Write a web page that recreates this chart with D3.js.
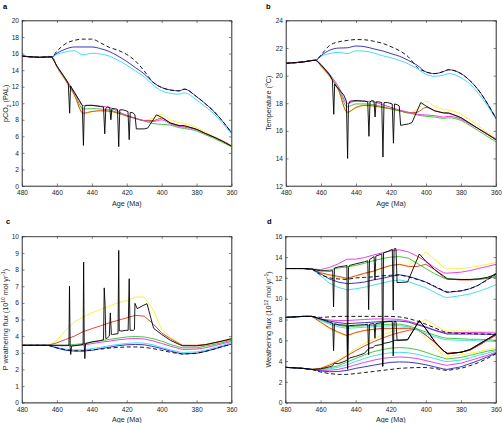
<!DOCTYPE html>
<html><head><meta charset="utf-8">
<script src="https://cdn.jsdelivr.net/npm/d3@7"></script>
<style>body{margin:0;background:#fff} svg{display:block} text{font-family:"Liberation Sans",Arial,sans-serif}</style>
</head><body><svg id="chart" width="502" height="423"></svg>
<script>
// ---------- DATA ----------
const xTicks = [480,460,440,420,400,380,360];
const yTicksA = [0,2,4,6,8,10,12,14,16,18,20];
const yTicksB = [12,14,16,18,20,22,24];
const yTicksC = [0,1,2,3,4,5,6,7,8,9,10];
const yTicksD = [0,2,4,6,8,10,12,14,16];

// panels a & b (ages in Ma)
const agesAB = [480,470,465,463,460,455,450,445,440,435,430,425,420,415,410,405,400,395,390,387,380,375,370,365,360];
const pco2Dashed  = [15.7,15.55,15.6,15.6,16.3,17.2,17.6,17.75,17.75,17.3,16.75,16.4,15.9,15.1,13.9,12.55,11.9,11.6,11.5,11.7,10.8,9.95,9.0,7.8,6.45];
const pco2Blue    = [15.7,15.55,15.6,15.6,16.05,16.55,16.8,16.8,16.8,16.6,16.25,15.7,15.05,14.3,13.55,12.55,11.9,11.6,11.5,11.7,10.8,9.95,9.0,7.8,6.45];
const pco2Cyan    = [15.7,15.55,15.6,15.6,15.9,16.2,16.35,15.85,16.05,15.95,15.7,15.2,14.6,13.9,13.2,12.2,11.5,11.2,11.1,11.25,10.4,9.6,8.7,7.55,6.3];
const pco2Magenta = [15.7,15.55,15.6,15.6,14.5,12.95,11.4,9.7,9.75,9.65,9.5,9.0,8.55,8.2,7.9,7.8,8.0,7.5,7.2,7.1,6.8,6.35,5.9,5.4,4.85];
const pco2Green   = [15.7,15.55,15.6,15.6,14.45,12.85,11.2,9.3,9.35,9.3,9.2,8.85,8.5,8.15,7.85,7.55,7.45,7.35,7.05,6.95,6.65,6.2,5.75,5.25,4.75];
const pco2Red     = [15.7,15.55,15.6,15.6,14.4,12.75,11.0,8.8,9.0,9.1,9.05,8.8,8.45,8.15,7.9,7.9,8.2,7.65,7.3,7.2,6.85,6.35,5.9,5.4,4.85];
const pco2Yellow  = [15.7,15.55,15.6,15.6,14.35,12.7,10.9,8.7,8.95,9.05,9.0,8.8,8.45,8.15,7.95,8.2,8.65,8.0,7.65,7.55,7.05,6.5,6.0,5.5,4.9];

const tempDashed  = [20.9,21.0,21.1,21.12,21.5,22.2,22.45,22.55,22.62,22.6,22.5,22.35,22.1,21.8,21.35,20.6,20.27,20.15,20.3,20.43,20.15,19.65,18.95,18.0,16.9];
const tempBlue    = [20.9,21.0,21.1,21.12,21.45,21.85,22.0,22.02,22.15,22.1,21.95,21.8,21.6,21.4,21.1,20.75,20.27,20.15,20.3,20.43,20.15,19.65,18.95,18.0,16.9];
const tempCyan    = [20.9,21.0,21.1,21.12,21.4,21.6,21.7,21.6,21.8,21.78,21.65,21.45,21.3,21.1,20.85,20.5,20.1,19.95,20.05,20.15,19.85,19.4,18.7,17.85,16.85];
const tempMagenta = [20.9,21.0,21.1,21.12,20.8,20.1,19.2,18.0,18.15,18.15,18.1,17.9,17.7,17.5,17.35,17.2,17.15,17.1,17.0,17.05,16.85,16.5,16.15,15.8,15.35];
const tempGreen   = [20.9,21.0,21.1,21.12,20.75,20.0,19.05,17.75,17.95,17.95,17.9,17.75,17.6,17.45,17.3,17.15,17.05,17.0,16.9,16.95,16.75,16.4,16.0,15.6,15.2];
const tempRed     = [20.9,21.0,21.1,21.12,20.7,19.95,18.95,17.35,17.7,17.85,17.8,17.7,17.6,17.45,17.3,17.35,17.7,17.45,17.3,17.25,16.95,16.55,16.15,15.75,15.4];
const tempYellow  = [20.9,21.0,21.1,21.12,20.65,19.9,18.9,17.3,17.65,17.8,17.8,17.7,17.55,17.45,17.3,17.55,18.15,17.75,17.55,17.5,17.2,16.8,16.35,15.9,15.45];

const blackAgesAB = [480,470,465,463,460,455,453.5,452.7,452.2,451.5,450,447,445.5,444.8,444.3,443.5,440,435,433.3,432.6,432,431,429.7,429.1,428.5,427,425.3,424.6,424,422,419.3,418.6,418,416.5,415.3,414.5,410,408,403,400,395,390,387,380,375,370,365,360];
const pco2Black = [15.7,15.55,15.6,15.6,14.5,12.95,12.4,8.8,12.1,11.8,11.3,10.3,9.75,4.9,9.5,9.75,9.75,9.6,9.55,6.3,9.4,9.55,9.45,8.0,9.35,9.35,9.25,4.75,9.2,9.2,9.0,5.6,8.9,8.85,8.6,6.9,6.9,7.0,8.6,8.3,7.6,7.3,7.3,6.85,6.35,5.9,5.4,4.8];
const tempBlack = [20.9,21.0,21.1,21.12,20.8,20.05,19.7,17.2,19.4,19.25,19.05,18.6,18.15,14.0,17.9,18.15,18.2,18.15,18.1,15.6,18.1,18.2,18.15,17.0,18.1,18.1,18.05,14.1,18.05,18.05,17.95,15.1,17.95,17.9,17.8,16.4,16.5,16.6,18.05,17.8,17.45,17.3,17.3,16.95,16.55,16.15,15.75,15.35];

// panel c
const agesC = [480,465,460,455,450,445,440,435,430,425,420,415,410,405,400,395,390,388,380,375,370,365,360];
const pwYellow  = [3.45,3.45,3.75,4.35,4.85,5.15,5.4,5.6,5.8,6.0,6.15,6.35,6.35,5.6,4.4,3.95,3.6,3.45,3.4,3.45,3.55,3.7,3.85];
const pwRed     = [3.45,3.45,3.6,3.8,4.0,4.27,4.45,4.62,4.8,4.95,5.1,5.25,5.2,4.75,4.2,3.85,3.55,3.45,3.45,3.5,3.6,3.7,3.8];
const pwGreen   = [3.45,3.45,3.45,3.45,3.5,3.55,3.65,3.72,3.8,3.88,3.95,3.98,3.95,3.85,3.7,3.5,3.35,3.3,3.3,3.4,3.5,3.62,3.75];
const pwMagenta = [3.45,3.45,3.43,3.42,3.44,3.47,3.55,3.63,3.7,3.78,3.83,3.86,3.83,3.72,3.56,3.4,3.25,3.2,3.22,3.3,3.42,3.55,3.68];
const pwCyan    = [3.45,3.45,3.32,3.22,3.18,3.17,3.25,3.33,3.42,3.5,3.56,3.6,3.58,3.48,3.32,3.17,3.05,3.02,3.05,3.15,3.3,3.45,3.6];
const pwBlue    = [3.45,3.45,3.28,3.15,3.1,3.1,3.15,3.25,3.33,3.42,3.48,3.5,3.48,3.38,3.25,3.1,2.97,2.93,2.97,3.08,3.22,3.38,3.52];
const pwDashed  = [3.45,3.45,3.3,3.18,3.12,3.12,3.17,3.22,3.28,3.32,3.35,3.35,3.33,3.25,3.15,3.03,2.95,2.92,2.97,3.08,3.22,3.38,3.52];
const blackAgesC = [480,465,455,453.1,452.8,452.4,452.1,451.6,448,445,444.7,444.35,444.0,443.6,440,436,433.3,432.9,432.4,432.0,431.0,430.0,429.4,428.8,428.2,425,424.6,424.3,423.9,423.5,420.5,419.2,418.6,418.1,416.2,415.6,415.3,414.0,410.5,408.4,404.6,400,395,390,388,380,375,370,365,360];
const pwBlack = [3.45,3.45,3.45,3.45,7.0,3.3,2.9,3.4,3.45,3.5,8.45,3.5,2.65,3.55,3.65,3.72,3.78,6.9,5.85,3.85,3.9,4.0,5.4,4.1,4.1,4.15,9.15,4.3,4.35,4.3,4.35,4.35,7.45,4.35,4.35,4.4,5.97,5.65,5.85,5.95,4.47,4.1,3.75,3.5,3.42,3.42,3.48,3.6,3.72,3.85];

// panel d
const agesD = [480,470,465,460,455,450,445,440,435,430,425,420,415,410,405,400,395,390,388,380,375,370,365,360];
const wfTopDashed  = [12.9,12.9,12.85,12.3,12.0,11.9,11.85,12.0,12.05,12.1,12.2,12.25,12.3,12.1,11.85,11.6,11.2,10.8,10.65,10.75,10.95,11.3,11.8,12.35];
const wfTopBlue    = [12.9,12.9,12.85,12.4,11.9,11.6,11.45,11.5,11.6,11.8,11.95,12.15,12.3,12.15,11.9,11.6,11.15,10.75,10.6,10.75,10.95,11.3,11.85,12.45];
const wfTopCyan    = [12.9,12.9,12.85,12.2,11.5,11.1,10.85,10.95,11.1,11.3,11.5,11.7,11.8,11.65,11.35,11.05,10.6,10.2,10.1,10.3,10.45,10.7,11.0,11.35];
const wfTopMagenta = [12.9,12.9,12.85,12.8,13.0,13.35,13.8,13.8,13.95,14.2,14.4,14.6,14.7,14.5,14.1,13.6,13.0,12.5,12.45,12.55,12.7,12.9,13.1,13.3];
const wfTopGreen   = [12.9,12.9,12.85,12.65,12.75,12.95,13.05,13.2,13.4,13.65,13.85,14.0,14.05,13.9,13.4,12.9,12.4,12.0,11.9,11.85,11.85,11.9,12.0,12.15];
const wfTopRed     = [12.9,12.9,12.85,12.5,12.3,12.15,11.95,12.2,12.45,12.65,12.95,13.2,13.3,13.1,13.1,13.3,12.8,12.1,11.9,11.8,11.8,11.85,11.95,12.1];
const wfTopYellow  = [12.9,12.9,12.85,12.45,12.2,12.05,11.9,12.15,12.4,12.6,12.9,13.15,13.3,13.2,13.7,14.5,13.8,13.05,12.85,12.9,13.0,13.15,13.3,13.5];
const wfMidDashed  = [8.2,8.3,8.3,8.2,8.25,8.3,8.3,8.3,8.3,8.3,8.3,8.3,8.25,8.1,7.85,7.55,7.2,6.85,6.75,6.65,6.65,6.6,6.6,6.6];
const wfMidMagenta = [8.2,8.3,8.3,8.05,7.95,7.9,7.9,7.95,8.0,8.05,8.05,8.05,8.0,7.85,7.6,7.3,7.0,6.75,6.7,6.75,6.75,6.75,6.72,6.7];
const wfMidBlue    = [8.2,8.3,8.3,8.05,7.85,7.7,7.6,7.65,7.7,7.75,7.8,7.85,7.85,7.75,7.5,7.25,6.95,6.7,6.6,6.6,6.6,6.6,6.58,6.55];
const wfMidGreen   = [8.2,8.3,8.3,7.95,7.65,7.45,7.3,7.35,7.4,7.45,7.5,7.55,7.55,7.4,7.1,6.8,6.5,6.25,6.2,6.15,6.1,6.1,6.05,6.0];
const wfMidCyan    = [8.2,8.3,8.3,7.9,7.55,7.3,7.15,7.2,7.25,7.3,7.35,7.4,7.4,7.3,7.0,6.65,6.35,6.1,6.05,6.0,6.0,5.95,5.92,5.9];
const wfMidRed     = [8.2,8.3,8.3,7.75,7.2,6.8,6.45,6.75,6.95,7.05,7.15,7.15,7.15,7.15,7.05,6.5,5.8,5.0,4.75,4.85,5.05,5.5,6.0,6.5];
const wfMidYellow  = [8.2,8.3,8.3,7.7,7.1,6.7,6.4,6.7,6.9,7.0,7.1,7.1,7.15,7.3,7.6,8.0,7.5,7.0,6.9,6.9,6.9,6.85,6.85,6.8];
const wfBotDashed  = [3.4,3.3,3.2,2.95,2.8,2.72,2.72,2.8,2.9,3.0,3.1,3.2,3.3,3.35,3.38,3.38,3.3,3.15,3.1,3.3,3.55,3.85,4.25,4.7];
const wfBotBlue    = [3.4,3.3,3.2,3.05,2.98,3.0,3.1,3.3,3.45,3.6,3.75,3.88,3.92,3.9,3.8,3.65,3.45,3.25,3.2,3.45,3.75,4.05,4.4,4.75];
const wfBotMagenta = [3.4,3.3,3.2,3.1,3.12,3.2,3.4,3.65,3.88,4.08,4.25,4.35,4.4,4.35,4.25,4.05,3.85,3.65,3.6,3.8,4.05,4.3,4.55,4.85];
const wfBotCyan    = [3.4,3.3,3.2,3.15,3.25,3.4,3.65,3.95,4.25,4.5,4.68,4.8,4.85,4.8,4.65,4.45,4.25,4.0,3.95,4.1,4.3,4.55,4.75,5.0];
const wfBotGreen   = [3.4,3.3,3.2,3.2,3.35,3.55,3.9,4.25,4.6,4.9,5.1,5.25,5.3,5.25,5.1,4.85,4.55,4.3,4.2,4.35,4.55,4.75,4.95,5.1];
const wfBotYellow  = [3.4,3.3,3.2,3.35,3.7,4.1,4.6,5.2,5.7,6.1,6.5,6.8,7.05,7.2,7.0,6.2,5.3,4.6,4.45,4.6,4.75,4.9,5.1,5.3];
const wfBotRed     = [3.4,3.3,3.2,3.3,3.6,4.0,4.5,5.0,5.45,5.85,6.2,6.5,6.75,6.95,7.1,6.5,5.8,5.0,4.75,4.85,5.05,5.5,6.0,6.5];
const blackAgesD = [480,470,465,460,455,453.1,452.6,452.1,450,446,445,444.6,444.1,443.5,440,435,433.1,432.6,432.1,430,429.5,429.0,428.5,425.1,424.6,424.1,421,419.1,418.6,418.1,417.0,416.4,410.4,403.7,400,395,390,387.5,380,375,370,365,360];
const wfTopBlack = [12.9,12.9,12.85,12.7,12.65,12.7,9.2,12.95,13.05,13.15,13.2,3.3,13.0,13.2,13.35,13.55,13.65,8.95,13.75,14.0,14.05,11.8,14.1,14.3,3.5,14.4,14.6,14.75,8.9,14.8,14.8,11.55,11.6,14.3,13.6,12.8,12.2,11.9,11.85,11.85,11.9,12.05,12.35];
const wfMidBlack = [8.2,8.3,8.3,8.05,7.75,7.65,5.0,7.6,7.5,7.45,7.45,3.2,7.4,7.42,7.45,7.5,7.55,4.6,7.55,7.6,7.6,6.2,7.6,7.7,3.5,7.75,7.8,7.8,4.5,7.8,7.8,6.0,6.05,7.9,7.1,5.9,5.0,4.7,4.85,5.1,5.6,6.1,6.6];
const wfBotBlack = [3.4,3.3,3.2,3.25,3.45,3.55,3.7,3.8,3.75,4.0,4.1,4.15,4.2,4.3,4.45,4.75,5.1,5.2,5.25,5.3,5.4,5.5,5.5,5.6,5.65,5.7,5.8,5.9,5.95,6.0,6.0,6.0,6.05,7.9,7.1,5.9,5.0,4.7,4.85,5.1,5.6,6.1,6.6];

// ---------- DRAWING ----------
const COL = {blue:"#2323b8", cyan:"#33d6f2", magenta:"#e02ee0", green:"#2ec22e", red:"#e3311c", yellow:"#f3f035", black:"#000000"};
const svg = d3.select("#chart");
const AX = "#333333";

function S(color, ages, vals, opt){ return Object.assign({color, ages, vals}, opt||{}); }

function panel(cfg){
  const x = d3.scaleLinear().domain([480,360]).range([cfg.left,cfg.right]);
  const y = d3.scaleLinear().domain(cfg.ydom).range([cfg.bottom,cfg.top]);
  const g = svg.append("g");
  const cid = "clip_"+cfg.name;
  svg.append("clipPath").attr("id",cid).append("rect")
     .attr("x",cfg.left).attr("y",cfg.top).attr("width",cfg.right-cfg.left).attr("height",cfg.bottom-cfg.top);
  const lg = g.append("g").attr("clip-path",`url(#${cid})`);
  cfg.series.forEach(s=>{
    const line = d3.line().x(d=>x(d[0])).y(d=>y(d[1])).curve(s.curve || cfg.curve || d3.curveLinear);
    lg.append("path").datum(d3.zip(s.ages,s.vals)).attr("d",line)
      .attr("fill","none").attr("stroke",s.color).attr("stroke-width",s.w||0.9)
      .attr("stroke-linejoin","round")
      .attr("stroke-dasharray",s.dash?"4,2.6":null);
  });
  const styleAxis = sel => { sel.selectAll("path").attr("stroke",AX).attr("stroke-width",0.6);
    sel.selectAll("line").attr("stroke",AX).attr("stroke-width",0.6);
    sel.selectAll("text").attr("fill","#262626").attr("font-size","6.6px").attr("font-family",'"Liberation Sans",Arial,sans-serif'); };
  g.append("g").attr("transform",`translate(0,${cfg.bottom})`)
    .call(d3.axisBottom(x).tickValues(xTicks).tickSizeInner(-2.5).tickSizeOuter(0).tickPadding(4.3)).call(styleAxis);
  g.append("g").attr("transform",`translate(0,${cfg.top})`)
    .call(d3.axisTop(x).tickValues(xTicks).tickSizeInner(-2.5).tickSizeOuter(0).tickFormat("")).call(styleAxis);
  g.append("g").attr("transform",`translate(${cfg.left},0)`)
    .call(d3.axisLeft(y).tickValues(cfg.yticks).tickSizeInner(-2.5).tickSizeOuter(0).tickPadding(3).tickFormat(d3.format("d"))).call(styleAxis);
  g.append("g").attr("transform",`translate(${cfg.right},0)`)
    .call(d3.axisRight(y).tickValues(cfg.yticks).tickSizeInner(-2.5).tickSizeOuter(0).tickFormat("")).call(styleAxis);
  g.append("rect").attr("x",cfg.left).attr("y",cfg.top).attr("width",cfg.right-cfg.left).attr("height",cfg.bottom-cfg.top)
    .attr("fill","none").attr("stroke",AX).attr("stroke-width",0.6);
  // x label
  g.append("text").attr("x",(cfg.left+cfg.right)/2).attr("y",cfg.bottom+19.5).attr("text-anchor","middle")
    .attr("font-size","7.2px").attr("fill","#262626").text("Age (Ma)");
  // y label
  const yl = g.append("text").attr("transform",`translate(${cfg.ylx},${(cfg.top+cfg.bottom)/2}) rotate(-90)`)
    .attr("text-anchor","middle").attr("font-size","7.2px").attr("fill","#262626");
  cfg.ylabel.forEach(p=>{
    const t = yl.append("tspan").text(p.t);
    if(p.s){ t.attr("font-size","5px").attr("baseline-shift",p.s==="sup"?"super":"sub"); }
    if(p.i){ t.attr("font-style","italic"); }
  });
  // panel letter
  g.append("text").attr("x",cfg.lx).attr("y",cfg.ly).attr("font-size","7.5px").attr("font-weight","bold").attr("fill","#000").text(cfg.name);
}

const smooth = d3.curveMonotoneX;
panel({name:"a", left:22, right:231.5, top:20.5, bottom:186, ydom:[0,20], yticks:yTicksA, curve:smooth, ylx:8, lx:3, ly:8.5,
  ylabel:[{t:"pCO"},{t:"2",s:"sub"},{t:" (PAL)"}],
  series:[S(COL.cyan,agesAB,pco2Cyan),S(COL.blue,agesAB,pco2Blue),S(COL.yellow,agesAB,pco2Yellow),S(COL.red,agesAB,pco2Red),
          S(COL.green,agesAB,pco2Green),S(COL.magenta,agesAB,pco2Magenta),S(COL.black,agesAB,pco2Dashed,{dash:true}),
          S(COL.black,blackAgesAB,pco2Black,{curve:d3.curveLinear})]});
panel({name:"b", left:286, right:496, top:20.5, bottom:186, ydom:[12,24], yticks:yTicksB, curve:smooth, ylx:270.5, lx:266, ly:8.5,
  ylabel:[{t:"Temperature (°C)"}],
  series:[S(COL.cyan,agesAB,tempCyan),S(COL.blue,agesAB,tempBlue),S(COL.yellow,agesAB,tempYellow),S(COL.red,agesAB,tempRed),
          S(COL.green,agesAB,tempGreen),S(COL.magenta,agesAB,tempMagenta),S(COL.black,agesAB,tempDashed,{dash:true}),
          S(COL.black,blackAgesAB,tempBlack,{curve:d3.curveLinear})]});
panel({name:"c", left:22, right:231.5, top:236.3, bottom:402.7, ydom:[0,10], yticks:yTicksC, ylx:8, lx:6, ly:224,
  ylabel:[{t:"P weathering flux (10"},{t:"10",s:"sup"},{t:" mol yr"},{t:"-1",s:"sup"},{t:")"}],
  series:[S(COL.yellow,agesC,pwYellow),S(COL.red,agesC,pwRed),S(COL.green,agesC,pwGreen),S(COL.magenta,agesC,pwMagenta),
          S(COL.cyan,agesC,pwCyan),S(COL.blue,agesC,pwBlue),S(COL.black,agesC,pwDashed,{dash:true}),S(COL.black,blackAgesC,pwBlack)]});
panel({name:"d", left:285.5, right:496, top:236.3, bottom:402.7, ydom:[0,16], yticks:yTicksD, ylx:270.5, lx:267, ly:224,
  ylabel:[{t:"Weathering flux (10"},{t:"12",s:"sup"},{t:" mol yr"},{t:"-1",s:"sup"},{t:")"}],
  series:[S(COL.yellow,agesD,wfTopYellow),S(COL.yellow,agesD,wfMidYellow),S(COL.yellow,agesD,wfBotYellow),
          S(COL.red,agesD,wfTopRed),S(COL.red,agesD,wfMidRed),S(COL.red,agesD,wfBotRed),
          S(COL.green,agesD,wfTopGreen),S(COL.green,agesD,wfMidGreen),S(COL.green,agesD,wfBotGreen),
          S(COL.magenta,agesD,wfTopMagenta),S(COL.magenta,agesD,wfMidMagenta),S(COL.magenta,agesD,wfBotMagenta),
          S(COL.cyan,agesD,wfTopCyan),S(COL.cyan,agesD,wfMidCyan),S(COL.cyan,agesD,wfBotCyan),
          S(COL.blue,agesD,wfTopBlue),S(COL.blue,agesD,wfMidBlue),S(COL.blue,agesD,wfBotBlue),
          S(COL.black,agesD,wfTopDashed,{dash:true}),S(COL.black,agesD,wfMidDashed,{dash:true}),S(COL.black,agesD,wfBotDashed,{dash:true}),
          S(COL.black,blackAgesD,wfTopBlack),S(COL.black,blackAgesD,wfMidBlack),S(COL.black,blackAgesD,wfBotBlack)]});
</script></body></html>
